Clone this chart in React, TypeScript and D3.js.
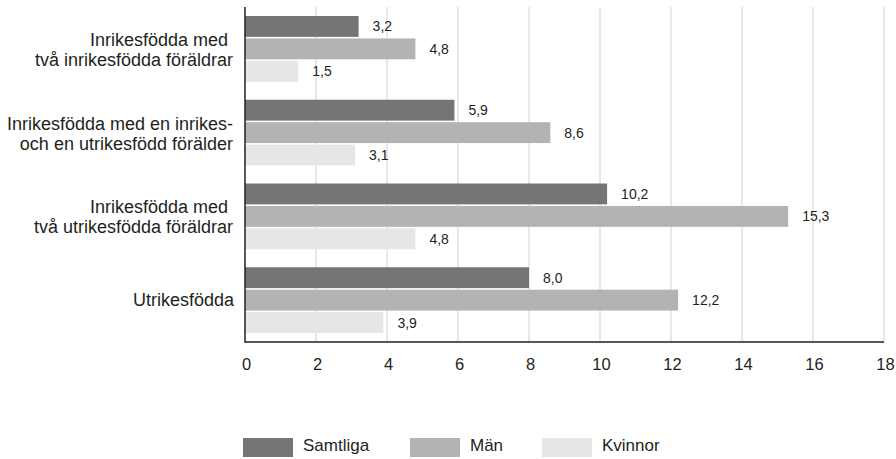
import React from "react";
import * as d3 from "d3";

const categories: string[][] = [
  ["Inrikesfödda med ", "två inrikesfödda föräldrar"],
  ["Inrikesfödda med en inrikes-", "och en utrikesfödd förälder"],
  ["Inrikesfödda med ", "två utrikesfödda föräldrar"],
  ["Utrikesfödda"],
];
const seriesNames = ["Samtliga", "Män", "Kvinnor"];
const samtliga = [3.2, 5.9, 10.2, 8.0];
const man = [4.8, 8.6, 15.3, 12.2];
const kvinnor = [1.5, 3.1, 4.8, 3.9];
const xTicks = [0, 2, 4, 6, 8, 10, 12, 14, 16, 18];
const colors = ["#767574", "#b3b3b3", "#e6e6e6"];

const W = 896;
const H = 459;
const left = 245;
const right = 884;
const top = 7;
const bottom = 342;
const textColor = "#231f20";
const font = "'Liberation Sans', Arial, Helvetica, sans-serif";

export default function App() {
  const series = [samtliga, man, kvinnor];
  const x = d3.scaleLinear().domain([0, 18]).range([left, right]);
  const y0 = d3
    .scaleBand<number>()
    .domain(d3.range(categories.length))
    .range([top, bottom])
    .paddingInner(0.215)
    .paddingOuter(0.1075);
  const y1 = d3
    .scaleBand<number>()
    .domain(d3.range(seriesNames.length))
    .range([0, y0.bandwidth()])
    .paddingInner(0.07);
  const fmt = (v: number) => v.toFixed(1).replace(".", ",");

  const legendX = [243, 410, 542];

  return (
    <svg
      width={W}
      height={H}
      style={{ position: "absolute", left: 0, top: 0, display: "block", background: "#fff" }}
      fontFamily={font}
    >
      {xTicks.slice(1).map((t) => (
        <line key={t} x1={x(t)} x2={x(t)} y1={top} y2={bottom} stroke="#d9d9d9" strokeWidth={1.2} />
      ))}
      {categories.map((_, ci) =>
        series.map((s, si) => {
          const yy = (y0(ci) as number) + (y1(si) as number);
          return (
            <g key={`${ci}-${si}`}>
              <rect x={x(0)} y={yy} width={x(s[ci]) - x(0)} height={y1.bandwidth()} fill={colors[si]} />
              <text
                x={x(s[ci]) + 14}
                y={yy + y1.bandwidth() / 2 + 5}
                fontSize={14}
                fill={textColor}
              >
                {fmt(s[ci])}
              </text>
            </g>
          );
        })
      )}
      <line x1={left} x2={left} y1={top} y2={bottom + 0.75} stroke={textColor} strokeWidth={1.5} />
      <line x1={left} x2={right} y1={bottom} y2={bottom} stroke={textColor} strokeWidth={1.5} />
      {xTicks.map((t) => (
        <text key={t} x={x(t) + 1.5} y={370} textAnchor="middle" fontSize={16.5} fill={textColor}>
          {t}
        </text>
      ))}
      {categories.map((lines, ci) => {
        const c = (y0(ci) as number) + y0.bandwidth() / 2;
        if (lines.length === 1) {
          return (
            <text key={ci} x={234} y={c + 6} textAnchor="end" fontSize={18} fill={textColor}>
              {lines[0]}
            </text>
          );
        }
        return (
          <text key={ci} textAnchor="end" fontSize={18} fill={textColor} style={{ whiteSpace: "pre" }}>
            <tspan x={233} y={c - 3}>{lines[0]}</tspan>
            <tspan x={233} y={c + 17}>{lines[1]}</tspan>
          </text>
        );
      })}
      {seriesNames.map((n, i) => (
        <g key={n}>
          <rect x={legendX[i]} y={438} width={50} height={19} fill={colors[i]} />
          <text x={legendX[i] + 60} y={451} fontSize={17} fill={textColor}>
            {n}
          </text>
        </g>
      ))}
    </svg>
  );
}
